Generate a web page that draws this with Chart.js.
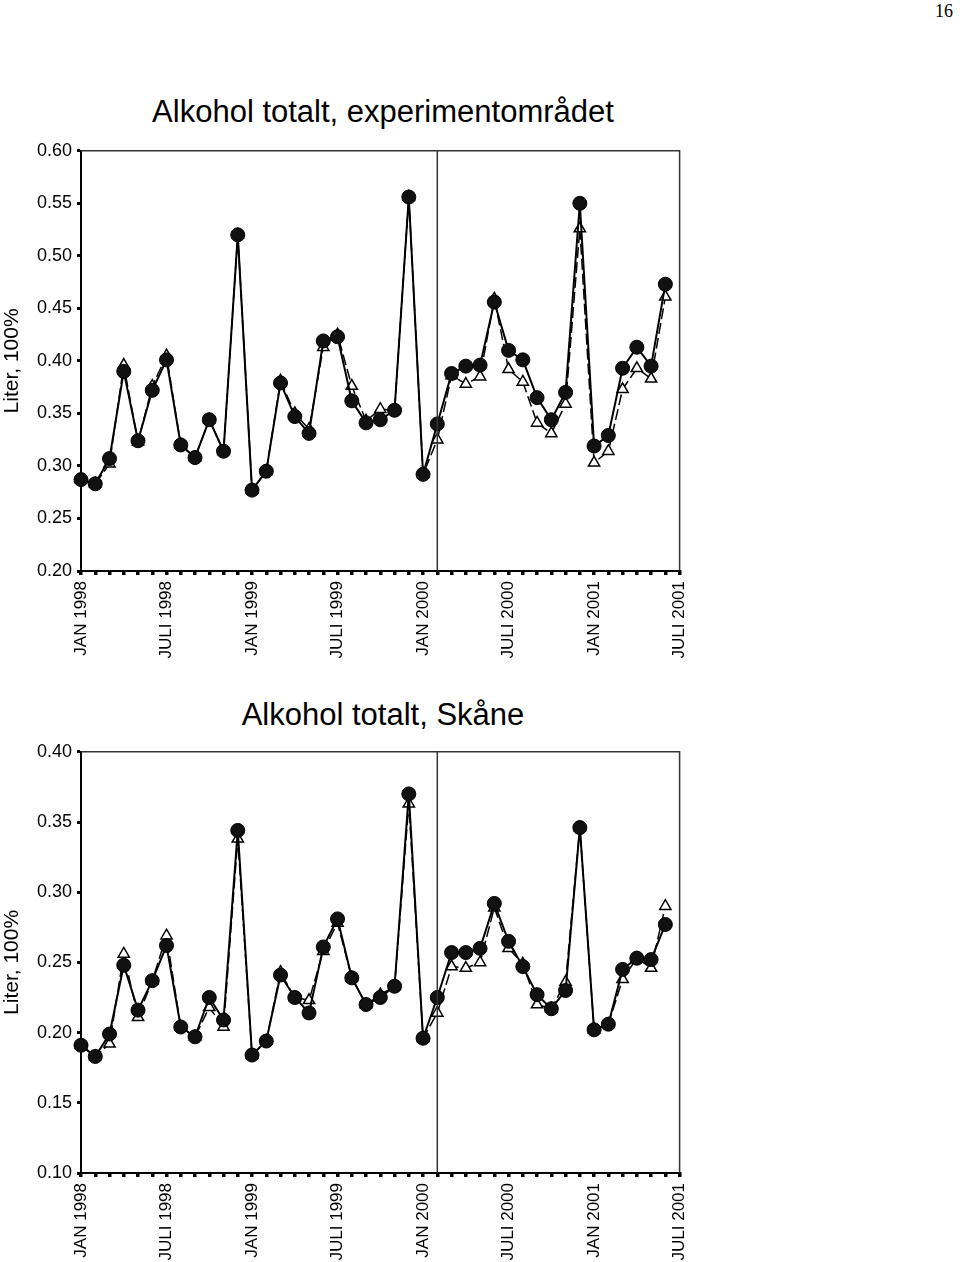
<!DOCTYPE html>
<html>
<head>
<meta charset="utf-8">
<script src="https://cdn.jsdelivr.net/npm/chart.js@4"></script>
<style>
  html, body { margin: 0; padding: 0; background: #fff; width: 960px; height: 1262px; overflow: hidden; }
  .title { position: absolute; left: 0; width: 766px; text-align: center; font-family: "Liberation Sans", Arial, sans-serif; font-size: 31px; line-height: 31px; color: #000; white-space: nowrap; }
  .pageno { position: absolute; right: 7px; top: 2px; font-family: "Liberation Serif", "Times New Roman", serif; font-size: 18px; line-height: 18px; color: #000; }
  .wrap { position: absolute; left: 0; width: 706px; }
</style>
</head>
<body>
<div class="pageno">16</div>
<div class="title" style="top:96px;">Alkohol totalt, experimentområdet</div>
<div class="wrap" style="top:135px;height:525px;"><canvas id="c1" width="706" height="525"></canvas></div>
<div class="title" style="top:699px;">Alkohol totalt, Skåne</div>
<div class="wrap" style="top:736px;height:526px;"><canvas id="c2" width="706" height="526"></canvas></div>
<script>
// Months JAN 1998 .. JULI 2001 (43 axis positions; data covers first 42)
const monthNames = ['JAN','FEB','MARS','APR','MAJ','JUNI','JULI','AUG','SEPT','OKT','NOV','DEC'];
const years = [1998, 1999, 2000, 2001];
const categories = [];
for (const y of years) for (const m of monthNames) categories.push(m + ' ' + y);
categories.length = 43;
const tickLabels = ['JAN 1998','JULI 1998','JAN 1999','JULI 1999','JAN 2000','JULI 2000','JAN 2001','JULI 2001'];
const interventionIndex = 25;

// Chart 1: experimentområdet
const expCircle = [0.287,0.283,0.307,0.390,0.324,0.372,0.401,0.320,0.308,0.344,0.314,0.520,
  0.277,0.295,0.379,0.347,0.331,0.419,0.423,0.362,0.341,0.344,0.353,0.556,
  0.292,0.340,0.388,0.395,0.396,0.456,0.410,0.401,0.365,0.344,0.370,0.550,
  0.319,0.329,0.393,0.413,0.395,0.473];
const expTriangle = [0.287,0.283,0.302,0.396,0.323,0.376,0.405,0.320,0.308,0.344,0.314,0.520,
  0.277,0.295,0.381,0.350,0.335,0.413,0.425,0.376,0.343,0.354,0.353,0.556,
  0.292,0.325,0.386,0.378,0.385,0.459,0.392,0.380,0.341,0.331,0.359,0.526,
  0.303,0.314,0.373,0.393,0.383,0.461];
const expTicks = [0.20,0.25,0.30,0.35,0.40,0.45,0.50,0.55,0.60];

// Chart 2: Skåne
const skCircle = [0.191,0.183,0.199,0.248,0.216,0.237,0.262,0.204,0.197,0.225,0.209,0.344,
  0.184,0.194,0.241,0.225,0.214,0.261,0.281,0.239,0.220,0.225,0.233,0.370,
  0.196,0.225,0.257,0.257,0.260,0.292,0.265,0.247,0.227,0.217,0.230,0.346,
  0.202,0.206,0.245,0.253,0.252,0.277];
const skTriangle = [0.191,0.183,0.192,0.256,0.211,0.237,0.269,0.204,0.197,0.218,0.204,0.338,
  0.184,0.194,0.243,0.225,0.223,0.258,0.278,0.239,0.220,0.227,0.233,0.363,
  0.196,0.214,0.247,0.246,0.250,0.289,0.260,0.249,0.220,0.217,0.236,0.346,
  0.202,0.206,0.238,0.253,0.246,0.290];
const skTicks = [0.10,0.15,0.20,0.25,0.30,0.35,0.40];

const FONT = '"Liberation Sans", Arial, sans-serif';

const framePlugin = {
  id: 'frame',
  afterDatasetsDraw(chart) {
    const {ctx, chartArea: a, scales: {x}} = chart;
    ctx.save();
    ctx.strokeStyle = '#333';
    ctx.lineWidth = 1.5;
    ctx.beginPath();
    ctx.moveTo(a.left, a.top); ctx.lineTo(a.right, a.top); ctx.lineTo(a.right, a.bottom);
    ctx.stroke();
    const xi = x.getPixelForValue(interventionIndex);
    ctx.beginPath();
    ctx.moveTo(xi, a.top); ctx.lineTo(xi, a.bottom);
    ctx.stroke();
    ctx.restore();
  }
};

function makeChart(id, circles, triangles, ticks) {
  const tmin = ticks[0], tmax = ticks[ticks.length - 1];
  return new Chart(document.getElementById(id), {
    type: 'line',
    data: {
      labels: categories,
      datasets: [
        {
          data: circles,
          borderColor: '#000', borderWidth: 2,
          pointStyle: 'circle', pointRadius: 7,
          pointBackgroundColor: '#111', pointBorderColor: '#000', pointBorderWidth: 1,
          tension: 0, order: 0
        },
        {
          data: triangles,
          borderColor: '#000', borderWidth: 1.5, borderDash: [11, 4],
          pointStyle: 'triangle', pointRadius: 6.5,
          pointBackgroundColor: '#fff', pointBorderColor: '#000', pointBorderWidth: 1.5,
          tension: 0, order: 1
        }
      ]
    },
    options: {
      responsive: false,
      animation: false,
      devicePixelRatio: 1,
      layout: { padding: { top: 10, right: 19, left: 0, bottom: 0 } },
      plugins: { legend: { display: false }, tooltip: { enabled: false }, title: { display: false } },
      scales: {
        x: {
          type: 'category',
          offset: false,
          afterFit: s => { s.height = 89; },
          grid: { display: true, drawOnChartArea: false, drawTicks: true, tickLength: 4, tickWidth: 3.5, tickColor: '#000', color: '#000', lineWidth: 3.5 },
          border: { display: true, color: '#000', width: 2 },
          ticks: {
            autoSkip: false, minRotation: 90, maxRotation: 90, padding: 6,
            color: '#000', font: { family: FONT, size: 17 },
            callback: (v, i) => (i % 6 === 0 ? tickLabels[i / 6] : '')
          }
        },
        y: {
          min: tmin, max: tmax,
          afterFit: s => { s.width = 81; },
          afterBuildTicks: s => { s.ticks = ticks.map(v => ({ value: v })); },
          grid: { display: true, drawOnChartArea: false, drawTicks: true, tickLength: 4, tickWidth: 3, tickColor: '#000', color: '#000' },
          border: { display: true, color: '#000', width: 2 },
          title: { display: true, text: 'Liter, 100%', color: '#000', font: { family: FONT, size: 21 }, padding: { top: 0, bottom: 0 } },
          ticks: {
            padding: 5, color: '#000', font: { family: FONT, size: 18 },
            callback: v => Number(v).toFixed(2)
          }
        }
      }
    },
    plugins: [framePlugin]
  });
}

makeChart('c1', expCircle, expTriangle, expTicks);
makeChart('c2', skCircle, skTriangle, skTicks);
</script>
</body>
</html>
